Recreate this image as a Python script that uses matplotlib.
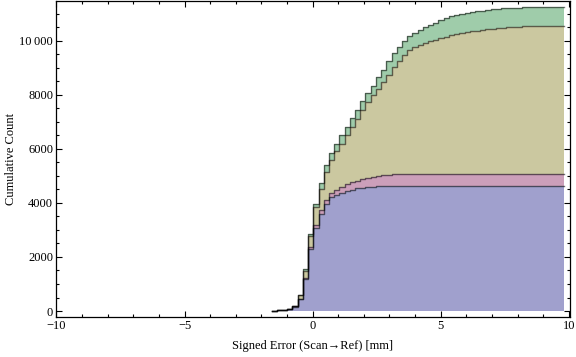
import numpy as np
import matplotlib
matplotlib.use('Agg')
import matplotlib.pyplot as plt
from matplotlib.ticker import MultipleLocator

# -------------------
# Data: cumulative counts per bin, one array per stacked layer
# -------------------
bin_edges = np.linspace(-1.6, 9.8, 57)

blue_cum = [5, 25, 35, 60, 165, 440, 1180, 2277, 3081, 3605, 3974, 4200, 4285,
            4380, 4439, 4491, 4539, 4565, 4587, 4605, 4612, 4624] + [4638] * 34
pink_cum = [0, 0, 0, 0, 5, 15, 30, 85, 90, 120, 125, 150, 185, 225, 250, 270,
            285, 310, 335, 355, 380, 400, 410, 420, 440] + [443] * 31
khaki_cum = [0, 0, 0, 0, 0, 135, 280, 431, 679, 803, 1041, 1248, 1445, 1583,
             1805, 2039, 2287, 2542, 2790, 3030, 3228, 3437, 3697, 3957, 4184,
             4391, 4559, 4679, 4769, 4845, 4914, 4959, 5009, 5067, 5124, 5164,
             5203, 5233, 5274, 5289, 5314, 5339, 5359, 5379, 5394, 5409, 5419,
             5429] + [5464] * 8
green_cum = [0, 0, 0, 0, 0, 10, 50, 73, 98, 206, 247, 250, 273, 306, 321, 325,
             330, 335, 340, 350, 420, 470, 500, 515, 520, 525, 530, 540, 555,
             580, 595, 630, 660, 680, 690, 698, 702, 705, 707, 709, 710, 711,
             712, 713, 714] + [715] * 11

layers = [blue_cum, pink_cum, khaki_cum, green_cum]
colors = ['#a0a0cd', '#cc9fba', '#cbc8a0', '#9fccaa']

x_ticks = [-10, -5, 0, 5, 10]
x_labels = ['\u221210', '\u22125', '0', '5', '10']
y_ticks = [0, 2000, 4000, 6000, 8000, 10000]
y_labels = ['0', '2000', '4000', '6000', '8000', '10\u2009000']

# -------------------
# Plot
# -------------------
plt.rcParams['font.family'] = ['Liberation Serif', 'DejaVu Serif']

fig = plt.figure(figsize=(5.76, 3.57), dpi=100)
ax = fig.add_axes([0.0972, 0.112, 0.8924, 0.886])

base = np.zeros(len(bin_edges) - 1)
for vals, col in zip(layers, colors):
    top = base + np.array(vals, dtype=float)
    lo = np.append(base, base[-1])
    hi = np.append(top, top[-1])
    ax.fill_between(bin_edges, lo, hi, step='post', color=col, linewidth=0)
    base = top

# boundary lines, drawn after fills so they sit on top
base = np.zeros(len(bin_edges) - 1)
for vals in layers:
    base = base + np.array(vals, dtype=float)
    ax.step(bin_edges, np.append(base, base[-1]), where='post',
            color='black', alpha=0.55, linewidth=1.0)

ax.set_xlim(-10.02, 10.05)
ax.set_ylim(-221, 11476)

ax.set_xticks(x_ticks)
ax.set_xticklabels(x_labels)
ax.set_yticks(y_ticks)
ax.set_yticklabels(y_labels)
ax.xaxis.set_minor_locator(MultipleLocator(1))
ax.yaxis.set_minor_locator(MultipleLocator(500))

ax.tick_params(which='both', direction='in', top=True, right=True,
               labelsize=9, pad=2, width=0.8)
ax.tick_params(which='major', length=4.5)
ax.tick_params(which='minor', length=2.5)
for s in ax.spines.values():
    s.set_linewidth(0.9)

ax.set_xlabel('Signed Error (Scan\u2192Ref) [mm]', fontsize=9)
ax.set_ylabel('Cumulative Count', fontsize=9)
ax.xaxis.set_label_coords(0.5, -0.073)
ax.yaxis.set_label_coords(-0.076, 0.5)

fig.savefig('out.png', dpi=100)
